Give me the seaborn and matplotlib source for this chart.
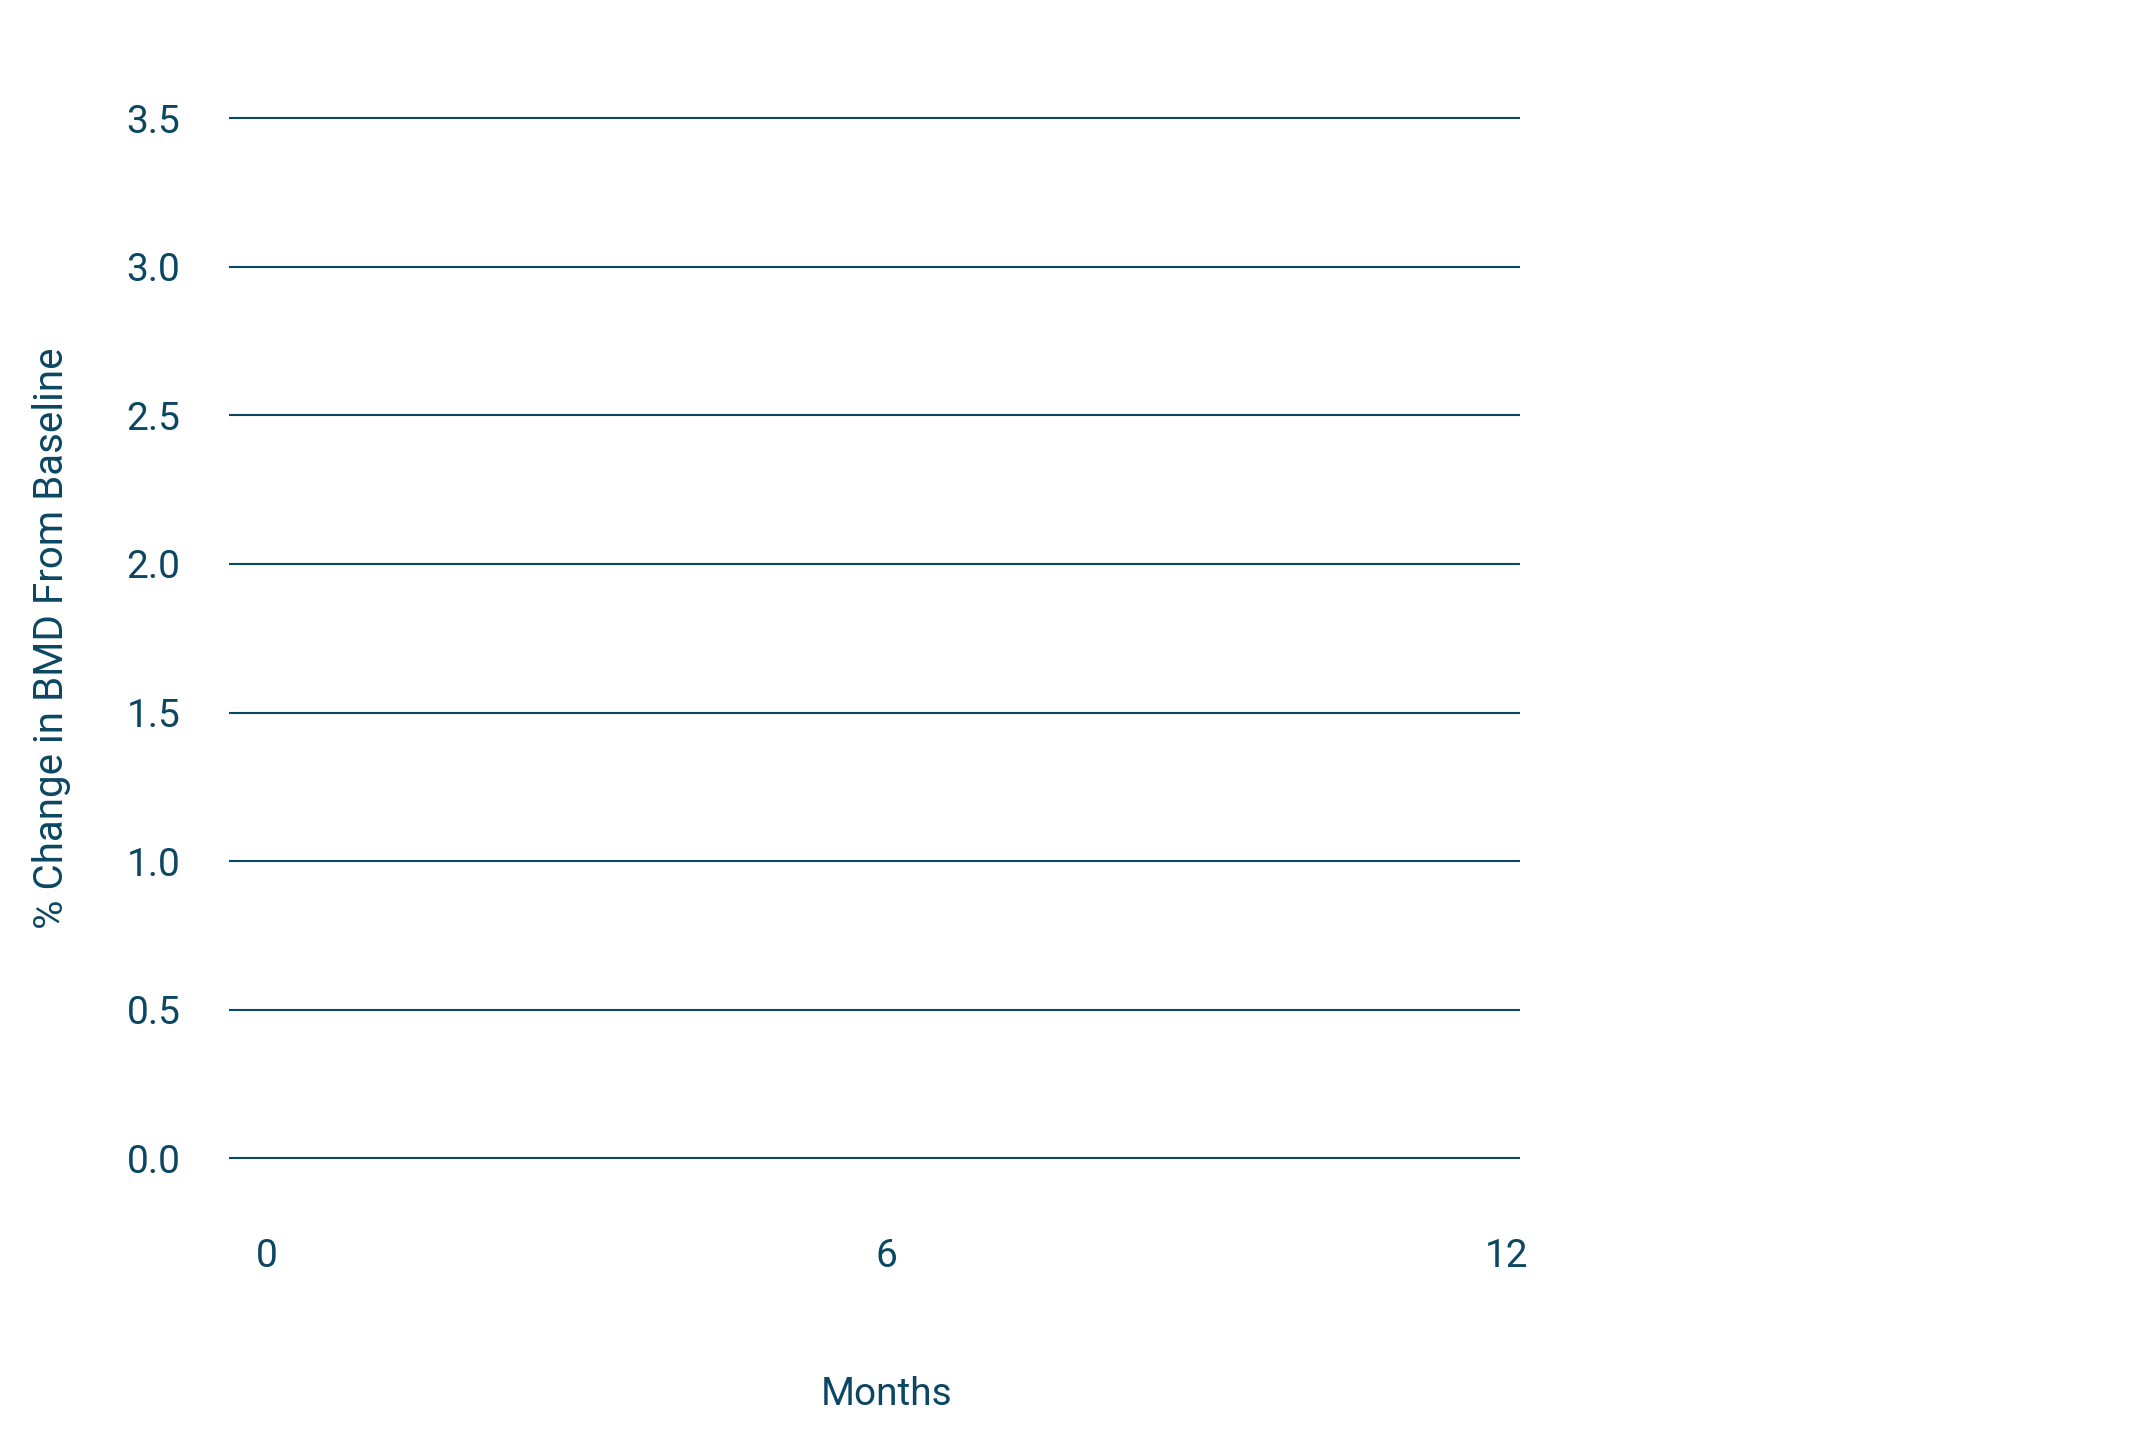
import matplotlib
matplotlib.use("Agg")
import matplotlib.pyplot as plt
import seaborn as sns

# chart content (empty study chart, axes only)
months = [0, 6, 12]
month_labels = ["0", "6", "12"]
bmd_ticks = [0.0, 0.5, 1.0, 1.5, 2.0, 2.5, 3.0, 3.5]
bmd_labels = ["0.0", "0.5", "1.0", "1.5", "2.0", "2.5", "3.0", "3.5"]

ink = "#0b4663"

sns.set_theme(style="white")
plt.rcParams["font.family"] = ["Roboto", "DejaVu Sans"]

fig = plt.figure(figsize=(21.39, 14.48), dpi=100)
ax = fig.add_axes([0.1071, 0.1795, 0.6035, 0.7595])

ax.set_xlim(-0.37, 12.13)
ax.set_ylim(-0.1, 3.6)
ax.set_xticks(months)
ax.set_xticklabels(month_labels)
ax.set_yticks(bmd_ticks)
ax.set_yticklabels(bmd_labels)

ax.grid(axis="y", color=ink, linewidth=1.5)
ax.grid(axis="x", visible=False)
sns.despine(ax=ax, left=True, bottom=True)

ax.tick_params(axis="y", length=0, pad=35, labelsize=28, labelcolor=ink)
ax.tick_params(axis="x", length=0, pad=36, labelsize=28, labelcolor=ink)

ax.set_xlabel("Months", fontsize=28, color=ink)
ax.set_ylabel("% Change in BMD From Baseline", fontsize=29, color=ink, labelpad=40)
# month label sits under the 6-month tick
ax.xaxis.set_label_coords((6 + 0.37) / 12.5, -0.171)

fig.savefig("out.png", dpi=100, facecolor="white")
